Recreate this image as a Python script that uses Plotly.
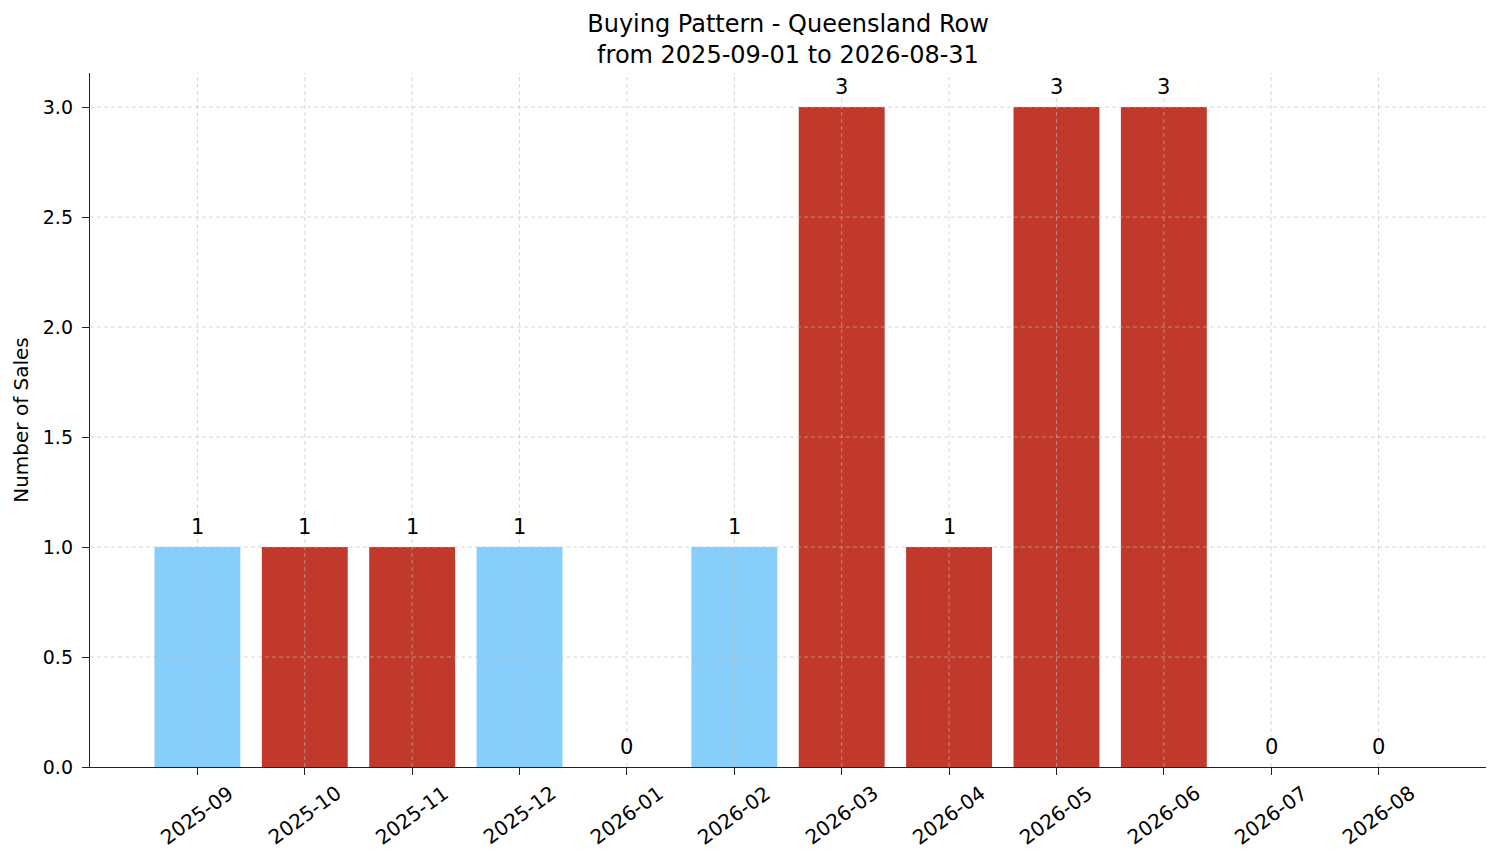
import plotly.graph_objects as go

# monthly sales data
months = ["2025-09", "2025-10", "2025-11", "2025-12", "2026-01", "2026-02",
          "2026-03", "2026-04", "2026-05", "2026-06", "2026-07", "2026-08"]
sales = [1, 1, 1, 1, 0, 1, 3, 1, 3, 3, 0, 0]
bar_colors = ["#87CEFA", "#C0392B", "#C0392B", "#87CEFA", "#87CEFA", "#87CEFA",
              "#C0392B", "#C0392B", "#C0392B", "#C0392B", "#87CEFA", "#87CEFA"]
y_ticks = [0.0, 0.5, 1.0, 1.5, 2.0, 2.5, 3.0]

font = "DejaVu Sans"

fig = go.Figure()
fig.add_trace(go.Bar(
    x=months, y=sales, marker=dict(color=bar_colors, line=dict(width=0)),
    width=0.8,
))

# dashed grid drawn above the bars (like matplotlib's zorder here)
grid = dict(color="rgba(190,190,190,0.6)", width=1, dash="4px,3px")
for m in months:
    fig.add_shape(type="line", xref="x", yref="paper", x0=m, x1=m, y0=0, y1=1,
                  line=grid, layer="above")
for t in y_ticks[1:]:
    fig.add_shape(type="line", xref="paper", yref="y", x0=0, x1=1, y0=t, y1=t,
                  line=grid, layer="above")

# value labels above each bar
for m, v in zip(months, sales):
    fig.add_annotation(x=m, y=v, xref="x", yref="y", text=str(v), showarrow=False,
                       xanchor="center", yanchor="bottom", yshift=6,
                       font=dict(family=font, size=21, color="black"))

# rotated tick labels centred on each tick
for m in months:
    fig.add_annotation(x=m, y=0, xref="x", yref="paper", yshift=-48, text=m,
                       textangle=-36, showarrow=False, xanchor="center",
                       yanchor="middle",
                       font=dict(family=font, size=20, color="black"))

fig.update_layout(
    width=1485, height=847,
    margin=dict(l=82, r=7, t=65, b=88),
    plot_bgcolor="white", paper_bgcolor="white",
    font=dict(family=font, size=19, color="black"),
    title=dict(text="Buying Pattern - Queensland Row<br>from 2025-09-01 to 2026-08-31",
               x=0.5, xref="paper", xanchor="center", y=0.972, yanchor="top",
               font=dict(family=font, size=24)),
    showlegend=False,
)
fig.update_xaxes(type="category", range=[-1, 12], showgrid=False, showline=True,
                 linecolor="#222222", linewidth=1.4, ticks="outside", ticklen=7,
                 tickcolor="#222222", tickwidth=1.4, showticklabels=False)
fig.update_yaxes(range=[0, 3.155], tickvals=y_ticks,
                 ticktext=[f"{t:.1f}" for t in y_ticks], showgrid=False,
                 zeroline=False, showline=True, linecolor="#222222", linewidth=1.4,
                 ticks="outside", ticklen=7, tickcolor="#222222", tickwidth=1.4,
                 ticklabelstandoff=5, tickfont=dict(family=font, size=19),
                 title=dict(text="Number of Sales", font=dict(family=font, size=20),
                            standoff=8))

fig.write_html("out.html")
